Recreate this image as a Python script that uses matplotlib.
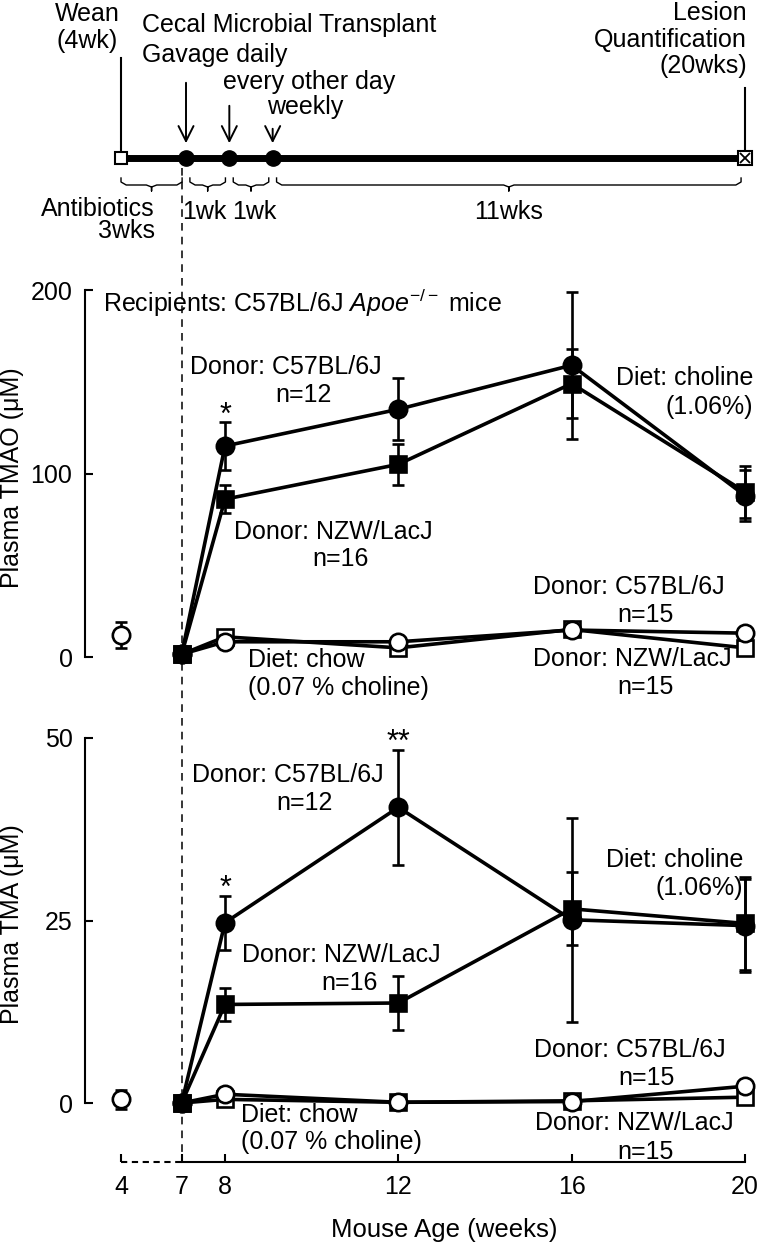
import matplotlib
matplotlib.use('Agg')
import matplotlib.pyplot as plt
import matplotlib.transforms as mtransforms

plt.rcParams['font.family'] = ['Liberation Sans', 'DejaVu Sans']
plt.rcParams['font.size'] = 18
plt.rcParams['mathtext.fontset'] = 'custom'
plt.rcParams['mathtext.rm'] = 'Liberation Sans'
plt.rcParams['mathtext.it'] = 'Liberation Sans:italic'

# ---- data (mean, SEM) ----
weeks = [7, 8, 12, 16, 20]
baseline_week = 4
week_labels = ['4', '7', '8', '12', '16', '20']

tmao_chol_b6 = [1.5, 115, 135, 159, 88]
tmao_chol_b6_sem = [1, 13, 17, 40, 14]
tmao_chol_nzw = [1.5, 86, 105, 149, 90]
tmao_chol_nzw_sem = [1, 7.5, 11, 19, 14]
tmao_chow_b6 = [1.5, 8.3, 8.3, 14.7, 13]
tmao_chow_b6_sem = [1, 2, 2, 3, 2]
tmao_chow_nzw = [1.5, 11, 5, 15, 5]
tmao_chow_nzw_sem = [1, 2, 2, 3, 2]
tmao_base, tmao_base_sem = 12, 7

tma_chol_b6 = [0, 24.7, 40.5, 25.1, 24.3]
tma_chol_b6_sem = [0.5, 3.7, 7.9, 14, 6.4]
tma_chol_nzw = [0, 13.5, 13.7, 26.6, 24.6]
tma_chol_nzw_sem = [0.5, 2.2, 3.7, 5, 6.4]
tma_chow_b6 = [0, 1.2, 0.1, 0.2, 2.3]
tma_chow_b6_sem = [0.4, 0.4, 0.4, 0.4, 0.4]
tma_chow_nzw = [0, 0.5, 0.1, 0.3, 0.8]
tma_chow_nzw_sem = [0.4, 0.4, 0.4, 0.4, 0.4]
tma_base, tma_base_sem = 0.5, 1.3

# significance marks: (week, label) on the choline C57BL/6J series
tmao_sig = [(8, '*')]
tma_sig = [(8, '*'), (12, '**')]

# timeline (weeks)
gavage_weeks = [7, 8, 9]
wean_week, lesion_week = 4, 20
period_labels = ['1wk', '1wk', '11wks']

# ---- layout ----
W, H = 760, 1242
BREAK_POS = 5.6          # where week 4 sits on the broken axis
TL_SHIFT = 0.1           # gavage marks sit a little right of the tick in the timeline
XLIM = (4.769, 20.347)


def xpos(w):
    return BREAK_POS if w == baseline_week else w


fig = plt.figure(figsize=(W / 100, H / 100), dpi=100)
px = mtransforms.Affine2D().scale(1 / W, -1 / H).translate(0, 1) + fig.transFigure


def box(left, top, right, bottom):
    return [left / W, 1 - bottom / H, (right - left) / W, (bottom - top) / H]


ax_tl = fig.add_axes(box(85, 0, 760, 270))
ax1 = fig.add_axes(box(85, 270, 760, 715))
ax2 = fig.add_axes(box(85, 715, 760, 1162))


def series(ax, y, err, marker, filled, ms):
    ax.errorbar(weeks, y, yerr=err, color='k', lw=2.6, marker=marker, ms=ms,
                mfc='k' if filled else 'white', mec='k', mew=1.9,
                ecolor='k', elinewidth=1.9, capsize=4.5, capthick=1.9, clip_on=False)


def style(ax, ylim, yticks, ylabel, label_y):
    ax.set_xlim(XLIM)
    ax.set_ylim(ylim)
    ax.patch.set_visible(False)
    for s in ['top', 'right']:
        ax.spines[s].set_visible(False)
    ax.spines['left'].set_bounds(yticks[0], yticks[-1])
    ax.spines['left'].set_linewidth(1.5)
    ax.spines['bottom'].set_linewidth(1.5)
    ax.set_yticks(yticks)
    ax.tick_params(direction='in', length=6, width=1.5, pad=9, labelsize=18)
    ax.set_ylabel(ylabel, fontsize=18)
    ax.yaxis.set_label_coords(-0.09, label_y)


def panel(ax, chol_b6, chol_b6_sem, chol_nzw, chol_nzw_sem, chow_b6, chow_b6_sem,
          chow_nzw, chow_nzw_sem, base, base_sem, sig):
    series(ax, chow_nzw, chow_nzw_sem, 's', False, 11)
    series(ax, chow_b6, chow_b6_sem, 'o', False, 12.5)
    series(ax, chol_nzw, chol_nzw_sem, 's', True, 11)
    series(ax, chol_b6, chol_b6_sem, 'o', True, 12.5)
    ax.errorbar([xpos(baseline_week)], [base], yerr=[base_sem], color='k', marker='o',
                ms=12.5, mfc='white', mec='k', mew=1.9, elinewidth=1.9,
                capsize=4.5, capthick=1.9, clip_on=False)
    for w, lab in sig:
        i = weeks.index(w)
        ax.annotate(lab, (w, chol_b6[i] + chol_b6_sem[i]), xytext=(0, -6),
                    textcoords='offset points', ha='center', va='bottom', fontsize=22)


# ---- TMAO panel ----
panel(ax1, tmao_chol_b6, tmao_chol_b6_sem, tmao_chol_nzw, tmao_chol_nzw_sem,
      tmao_chow_b6, tmao_chow_b6_sem, tmao_chow_nzw, tmao_chow_nzw_sem,
      tmao_base, tmao_base_sem, tmao_sig)
style(ax1, (-31.6, 210.9), [0, 100, 200], 'Plasma TMAO (μM)', 0.533)
ax1.spines['bottom'].set_visible(False)
ax1.set_xticks([])

# ---- TMA panel ----
panel(ax2, tma_chol_b6, tma_chol_b6_sem, tma_chol_nzw, tma_chol_nzw_sem,
      tma_chow_b6, tma_chow_b6_sem, tma_chow_nzw, tma_chow_nzw_sem,
      tma_base, tma_base_sem, tma_sig)
style(ax2, (-8.08, 53.15), [0, 25, 50], 'Plasma TMA (μM)', 0.532)
ax2.spines['bottom'].set_bounds(7, 20)
ax2.set_xticks([xpos(baseline_week)] + weeks)
ax2.set_xticklabels(week_labels)
ax2.plot([xpos(baseline_week), 7], [0, 0], color='k', lw=1.5, ls=(0, (3, 2.2)),
         transform=mtransforms.blended_transform_factory(ax2.transData, ax2.transAxes),
         clip_on=False)
ax2.set_xlabel('Mouse Age (weeks)', fontsize=18.5)
ax2.xaxis.set_label_coords(0.532, -0.125)

# dashed line marking start of transplant, across the whole figure
fig.add_artist(plt.Line2D([7, 7], [168, 1162], color='k', lw=1.1, ls=(0, (5, 4)),
                          transform=mtransforms.blended_transform_factory(ax2.transData, px)))

# ---- timeline ----
ax_tl.set_xlim(XLIM)
ax_tl.set_ylim(270, 0)
ax_tl.axis('off')
TL_Y = 158
gav_x = [w + TL_SHIFT for w in gavage_weeks]
ax_tl.plot([xpos(wean_week), lesion_week], [TL_Y, TL_Y], color='k', lw=5, zorder=2)
ax_tl.plot([xpos(wean_week)], [TL_Y], marker='s', ms=8, mfc='white', mec='k', mew=1.5, zorder=3)
ax_tl.plot(gav_x, [TL_Y] * len(gav_x), 'o', color='k', ms=11, zorder=3)
ax_tl.plot([lesion_week], [TL_Y], marker='s', ms=9.5, mfc='white', mec='k', mew=1.5, zorder=3)
ax_tl.plot([lesion_week], [TL_Y], marker='x', ms=7, mec='k', mew=1.3, zorder=4)
ax_tl.plot([xpos(wean_week)] * 2, [58, 152], color='k', lw=1.5)
ax_tl.plot([lesion_week] * 2, [88, 151], color='k', lw=1.5)
for x, y0 in zip(gav_x, [80, 103, 126]):
    ax_tl.annotate('', xy=(x, 146), xytext=(x, y0),
                   arrowprops=dict(arrowstyle='->,head_width=0.3,head_length=0.6', lw=1.4, color='k'))


def brace(x0, x1, ytop=178, yb=185, notch=6, d=0.12):
    xm = (x0 + x1) / 2
    xs = [x0, x0, x0 + d, xm - d, xm, xm, xm, xm + d, x1 - d, x1, x1]
    ys = [ytop, yb - 3, yb, yb, yb + 2, yb + notch, yb + 2, yb, yb, yb - 3, ytop]
    ax_tl.plot(xs, ys, color='k', lw=1.0)
    return xm


stops = [xpos(wean_week)] + gav_x + [lesion_week]
gap = 0.09
centers = [brace(a + (gap if i else 0), b - gap) for i, (a, b) in enumerate(zip(stops[:-1], stops[1:]))]
for xm, lab, nudge in zip(centers[1:], period_labels, [-2.5, 2.5, 0]):
    ax_tl.annotate(lab, (xm, 212), xytext=(nudge, 0), textcoords='offset points',
                   ha='center', va='center')

ax_tl.text(87, 27.5, 'Wean\n(4wk)', transform=px, ha='center', va='center', linespacing=1.2)
ax_tl.text(142, 25, 'Cecal Microbial Transplant', transform=px, ha='left', va='center')
ax_tl.text(142, 55, 'Gavage daily', transform=px, ha='left', va='center')
ax_tl.text(223, 82, 'every other day', transform=px, ha='left', va='center')
ax_tl.text(305, 107, 'weekly', transform=px, ha='center', va='center')
ax_tl.text(747, 39.5, 'Lesion\nQuantification\n(20wks)', transform=px, ha='right',
           va='center', multialignment='right', linespacing=1.15)
ax_tl.text(155, 220, 'Antibiotics\n3wks', transform=px, ha='right', va='center',
           multialignment='right', linespacing=0.86)

# ---- panel annotations (x, y in pixels, one line each) ----
notes = [
    (103, 303, 'Recipients: C57BL/6J $\\mathit{Apoe}^{\\mathrm{-/-}}$ mice', 'left'),
    # TMAO
    (286, 367, 'Donor: C57BL/6J', 'center'), (304, 395, 'n=12', 'center'),
    (753, 378, 'Diet: choline', 'right'), (753, 407, '(1.06%)', 'right'),
    (333, 532, 'Donor: NZW/LacJ', 'center'), (341, 559, 'n=16', 'center'),
    (629, 587, 'Donor: C57BL/6J', 'center'), (646, 615, 'n=15', 'center'),
    (248, 660, 'Diet: chow', 'left'), (248, 688, '(0.07 % choline)', 'left'),
    (632, 659, 'Donor: NZW/LacJ', 'center'), (646, 687, 'n=15', 'center'),
    # TMA
    (288, 775, 'Donor: C57BL/6J', 'center'), (305, 803, 'n=12', 'center'),
    (743, 860, 'Diet: choline', 'right'), (743, 888, '(1.06%)', 'right'),
    (341, 955, 'Donor: NZW/LacJ', 'center'), (350, 983, 'n=16', 'center'),
    (630, 1050, 'Donor: C57BL/6J', 'center'), (647, 1078, 'n=15', 'center'),
    (241, 1115, 'Diet: chow', 'left'), (241, 1142, '(0.07 % choline)', 'left'),
    (634, 1123, 'Donor: NZW/LacJ', 'center'), (646, 1152, 'n=15', 'center'),
]
for x, y, s, ha in notes:
    fig.text(x, y, s, transform=px, ha=ha, va='center')

fig.savefig('out.png', dpi=100)
